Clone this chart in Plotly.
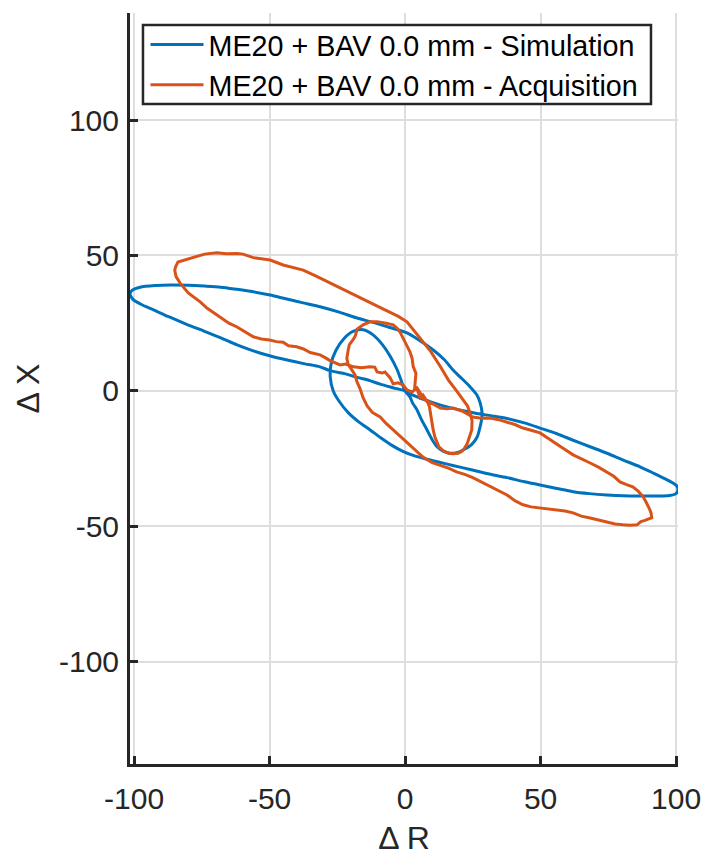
import plotly.graph_objects as go

# ---- Data ----
sim_r = [0, -1.5, -3, -5.5, -8.3, -11.8, -15.5, -19.2, -22.6, -25.5, -27.3, -27.6, -26.5, -24.2,
         -21, -17, -13, -9, -5, -1, 3, 8, 13, 18, 24, 30, 37.6, 44, 49.8, 56, 62, 68, 74.5, 80.5,
         86.7, 93, 97.5, 99.8, 100.7, 100.2, 98.5, 96.7, 92, 86.7, 80.5, 74.5, 68, 62, 56, 49.8,
         44, 37.6, 32, 26.5, 21, 15.5, 10, 5.5, 2, 0, -4.5, -9.2, -13, -17.7, -22, -27.7, -31.4,
         -37, -43.5, -50, -56, -62, -68, -74, -80.4, -87, -93, -97.5, -100.4, -101.5, -100.5,
         -97.8, -92, -86.7, -80, -74, -68, -62, -56, -49.8, -44, -38, -31, -24, -18, -11.8, -6,
         0.7, 5.5, 10.5, 14.5, 17.7, 21, 24, 26.5, 27.7, 28.4, 28.2, 27.5, 26.6, 24.5, 21.4, 19,
         16.6, 14, 11.8, 10, 8.1, 6, 4.4, 2.8, 1.8, 0]
sim_x = [0, 4, 8, 12.8, 17, 20.7, 22.6, 22, 19.3, 15, 10, 5, 0, -4,
         -8, -11.5, -14.3, -17.3, -20, -22.2, -23.8, -25.2, -26.4, -27.6, -29, -30.5, -32, -33.5,
         -34.7, -36, -37.2, -37.9, -38.4, -38.7, -38.8, -38.8, -38.6, -38.0, -36.5, -35, -33.8,
         -32.8, -30.5, -28, -25.5, -23, -20.5, -18.2, -15.8, -13.7, -11.8, -10.2, -9.2, -8.3,
         -7.2, -5.9, -4.2, -2.6, -1.2, 0, 1.2, 2.5, 3.8, 5, 6.3, 7.5, 8.9, 10, 11.4, 13, 14.8,
         17, 19.6, 22, 24.5, 27.3, 30, 32, 33.8, 35.8, 37.3, 38.3, 38.9, 39.1, 39, 38.7, 38.3,
         37.5, 36.6, 35.4, 34, 32.6, 31, 29, 27, 25.3, 23.5, 21.4, 18.5, 15, 11.5, 7.7, 4.5, 1.5,
         -1.5, -4.4, -8, -10.7, -14, -17, -19.8, -21.8, -22.8, -23, -22.2, -20.6, -18, -14.4,
         -10.5, -7, -4.5, -2.2, 0]

acq_r = [3.5, 3.7, 4.0, 3.0, 2.6, 1.8, 0.8, 0.0, -1.8, -3.0, -4.4, -7.0, -10.3, -13.0, -15.5,
         -17.7, -18.3, -19.0, -20.6, -21.0, -21.5, -21.0, -19.5, -18.5, -17.8, -16.6, -15.5, -14.0,
         -12.0, -9.2, -7.0, -4.4, -2.0, 0.7, 3.5, 6.6, 10.0, 13.0, 16.0, 19.0, 22.0, 25.0, 28.0,
         31.4, 34.5, 37.6, 40.5, 43.5, 46.5, 49.8, 53.0, 56.0, 59.0, 62.0, 65.0, 68.3, 71.5, 74.5,
         77.5, 80.4, 83.0, 85.6, 87.0, 88.5, 91.0, 90.8, 90.2, 89.0, 87.8, 86.0, 84.0, 81.5, 79.3,
         77.0, 74.5, 71.5, 68.3, 65.0, 62.0, 58.0, 54.6, 52.0, 49.8, 46.5, 43.5, 40.5, 37.6, 34.5,
         31.4, 28.0, 25.0, 21.0, 17.7, 15.5, 13.0, 11.0, 9.2, 6.6, 5.5, 4.4, 2.6, 0.7, -0.7, -2.6,
         -4.4, -5.5, -7.4, -8.5, -10.3, -11.2, -13.0, -16.0, -19.0, -22.0, -24.0, -27.7, -29.5,
         -31.4, -35.0, -37.5, -40.0, -43.0, -45.0, -47.5, -50.0, -53.0, -56.0, -58.0, -60.0, -62.0,
         -65.0, -68.0, -70.8, -73.0, -75.5, -78.0, -80.0, -83.0, -84.5, -85.0, -84.6, -83.8, -81.0,
         -78.0, -74.0, -69.4, -66.0, -62.0, -59.8, -56.0, -52.0, -49.8, -45.0, -41.0, -37.6, -33.0,
         -29.0, -25.0, -21.0, -17.0, -11.8, -8.0, -5.5, -2.5, 0.7, 3.5, 6.6, 9.5, 13.0, 16.0, 19.0,
         21.5, 23.0, 24.0, 24.7, 24.6, 24.0, 23.5, 22.9, 22.0, 21.0, 19.5, 17.7, 16.0, 14.0, 12.5,
         11.8, 11.0, 10.3, 9.8, 9.2, 9.0, 8.5, 7.8, 6.6, 5.5, 4.5, 3.5]
acq_x = [0.5, 4.0, 6.5, 9.0, 12.0, 14.4, 16.5, 18.0, 21.6, 23.2, 24.4, 25.0, 25.5, 25.5, 24.4,
         22.8, 20.5, 19.2, 17.0, 15.0, 12.0, 9.8, 7.5, 6.0, 3.5, 0.8, -2.5, -5.5,
         -8.0, -9.6, -12.0, -14.4, -16.5, -19.0, -21.5, -24.4, -26.5, -27.5, -28.5, -29.9, -30.8,
         -32.0, -33.5, -35.4, -36.8, -38.4, -40.5, -42.0, -42.8, -43.2, -43.4, -43.9, -44.3, -45.0,
         -46.2, -46.9, -47.6, -48.3, -49.1, -49.4, -49.6, -49.4, -48.2, -47.8, -46.8, -45.2, -43.6,
         -41.2, -39.0, -37.0, -35.4, -34.5, -33.6, -31.5, -29.9, -28.2, -26.6, -25.0, -23.6, -21.0,
         -18.8, -16.8, -15.5, -14.5, -13.7, -12.4, -11.4, -10.6, -10.0, -10.1, -9.6, -7.4, -6.3,
         -6.6, -6.3, -5.2, -4.2, -2.8, -0.6, 1.1, -0.4, 0.4, 2.2, 3.0, 2.6, 4.8, 7.0, 6.6, 7.0,
         8.8, 8.9, 8.6, 8.9, 9.9, 9.6, 11.2, 12.3, 13.3, 14.2, 15.5, 16.3, 16.7, 18.0, 18.2, 18.8,
         19.2, 20.0, 21.3, 22.5, 23.6, 25.0, 27.0, 29.0, 30.5, 32.8, 34.7, 36.2, 39.8, 42.2, 44.6,
         46.0, 47.6, 48.4, 49.5, 50.5, 51.0, 50.6, 50.7, 50.5, 49.2, 48.8, 48.3, 46.5, 45.5, 44.6,
         42.5, 40.5, 38.4, 36.5, 34.4, 31.8, 30.2, 29.0, 27.5, 25.5, 22.0, 18.0, 14.5, 9.0,
         4.0, 0.0, -3.3, -5.5, -8.1, -11.0, -14.4, -16.5, -18.0, -19.5, -21.0, -22.3, -23.0, -23.2,
         -23.0, -22.0, -20.6, -19.0, -17.0, -14.0, -10.7, -8.0, -5.9, -4.5, -3.3, -1.5, -2.5, 0.5]

x_ticks = [-100, -50, 0, 50, 100]
y_ticks = [-100, -50, 0, 50, 100]
x_range = [-101.5, 100.7]
y_range = [-137.7, 139.5]

sim_name = "ME20 + BAV 0.0 mm - Simulation"
acq_name = "ME20 + BAV 0.0 mm - Acquisition"

BLUE = "#0072BD"
ORANGE = "#D95319"
DARK = "#262626"
FONT = "Liberation Sans, Arial, Helvetica, sans-serif"

fig = go.Figure()
fig.add_trace(go.Scatter(x=sim_r, y=sim_x, mode="lines", name=sim_name,
                         line=dict(color=BLUE, width=3, shape="spline", smoothing=0.8)))
fig.add_trace(go.Scatter(x=acq_r, y=acq_x, mode="lines", name=acq_name,
                         line=dict(color=ORANGE, width=3)))

axis_common = dict(
    showline=True, linecolor=DARK, linewidth=3, mirror=False,
    ticks="inside", ticklen=8, tickwidth=2.5, tickcolor=DARK,
    showgrid=True, gridcolor="#dedede", gridwidth=2,
    zeroline=False, automargin=False,
    tickfont=dict(family=FONT, size=30, color=DARK),
)

fig.update_xaxes(range=x_range, tickvals=x_ticks, ticktext=[str(v) for v in x_ticks],
                 title=dict(text="Δ R", font=dict(family=FONT, size=32, color=DARK), standoff=28),
                 ticklabelstandoff=6, **axis_common)
fig.update_yaxes(range=y_range, tickvals=y_ticks, ticktext=[str(v) for v in y_ticks],
                 title=dict(text="Δ X", font=dict(family=FONT, size=32, color=DARK), standoff=10),
                 ticklabelstandoff=2, **axis_common)

# legend frame (white box with dark border), drawn as a paper-referenced rectangle
fig.add_shape(type="rect", xref="paper", yref="paper",
              x0=0.0237, x1=0.9507, y0=0.8788, y1=0.9840,
              line=dict(color=DARK, width=2.5), fillcolor="white", layer="above")

fig.update_layout(
    width=706, height=856, autosize=False,
    margin=dict(l=130, r=28, t=13, b=92),
    paper_bgcolor="white", plot_bgcolor="white",
    font=dict(family=FONT, color=DARK),
    showlegend=True,
    legend=dict(x=0.0283, y=0.9915, xanchor="left", yanchor="top",
                bgcolor="rgba(0,0,0,0)", borderwidth=0,
                font=dict(family=FONT, size=28.7, color="#000000"),
                tracegroupgap=0, itemwidth=53),
)

fig.write_html("out.html", config={"displayModeBar": False},
               post_script="document.body.style.margin='0';document.body.style.overflow='hidden';")
